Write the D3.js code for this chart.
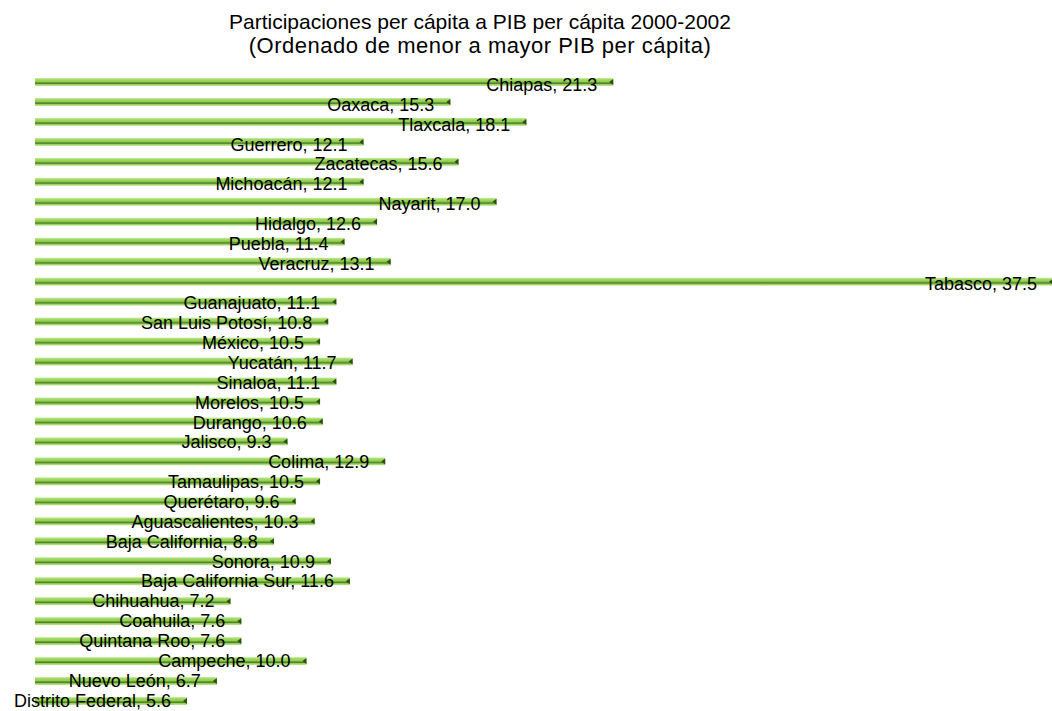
<!DOCTYPE html>
<html>
<head>
<meta charset="utf-8">
<script src="https://cdn.jsdelivr.net/npm/d3@7"></script>
<style>
  html, body { margin: 0; padding: 0; background: #fff; }
  svg { display: block; font-family: "Liberation Sans", Arial, sans-serif; }
</style>
</head>
<body>
<svg id="chart" width="1052" height="711"></svg>
<script>
const titleLines = [
  "Participaciones per cápita a PIB per cápita 2000-2002",
  "(Ordenado de menor a mayor PIB per cápita)"
];
const states = [
  "Chiapas", "Oaxaca", "Tlaxcala", "Guerrero", "Zacatecas", "Michoacán", "Nayarit",
  "Hidalgo", "Puebla", "Veracruz", "Tabasco", "Guanajuato", "San Luis Potosí", "México",
  "Yucatán", "Sinaloa", "Morelos", "Durango", "Jalisco", "Colima", "Tamaulipas",
  "Querétaro", "Aguascalientes", "Baja California", "Sonora", "Baja California Sur",
  "Chihuahua", "Coahuila", "Quintana Roo", "Campeche", "Nuevo León", "Distrito Federal"
];
const values = [
  21.3, 15.3, 18.1, 12.1, 15.6, 12.1, 17.0,
  12.6, 11.4, 13.1, 37.5, 11.1, 10.8, 10.5,
  11.7, 11.1, 10.5, 10.6, 9.3, 12.9, 10.5,
  9.6, 10.3, 8.8, 10.9, 11.6,
  7.2, 7.6, 7.6, 10.0, 6.7, 5.6
];

const data = states.map((s, i) => ({ name: s, value: values[i] }));
const svg = d3.select("#chart");

const defs = svg.append("defs");
const grad = defs.append("linearGradient")
  .attr("id", "barGrad").attr("x1", 0).attr("y1", 0).attr("x2", 0).attr("y2", 1);
[
  [0, "#d2ecb0"], [0.18, "#a3dc66"], [0.45, "#8fcf4e"], [0.56, "#6a9e38"],
  [0.68, "#527f2a"], [0.8, "#93cf55"], [1, "#c8e6a2"]
].forEach(([o, c]) => grad.append("stop").attr("offset", o).attr("stop-color", c));

const x = d3.scaleLinear().domain([0, 37.5]).range([35, 1053]);
// bar centres and label baselines
const yBar = d3.scalePoint().domain(states).range([82, 701]);
const yLab = d3.scalePoint().domain(states).range([91, 706.5]);
const barH = 8;

// Title
svg.append("g").selectAll("text").data(titleLines).join("text")
  .attr("x", 480)
  .attr("y", (d, i) => 28.5 + i * 24.5)
  .attr("text-anchor", "middle")
  .attr("font-size", (d, i) => i === 0 ? "21px" : "22px")
  .attr("letter-spacing", (d, i) => i === 0 ? "0px" : "0.5px")
  .attr("fill", "#000")
  .text(d => d);

const rows = svg.append("g").selectAll("g").data(data).join("g");

rows.append("rect")
  .attr("x", x(0))
  .attr("y", d => yBar(d.name) - barH / 2)
  .attr("width", d => x(d.value) - x(0))
  .attr("height", barH)
  .attr("fill", "url(#barGrad)");

rows.append("path")
  .attr("d", d => {
    const xe = x(d.value), cy = yBar(d.name);
    return `M${xe - 4},${cy} L${xe},${cy - 3} L${xe},${cy + 3} Z`;
  })
  .attr("fill", "#2e4d14");

rows.append("text")
  .attr("x", d => x(d.value) - 16)
  .attr("y", d => yLab(d.name))
  .attr("text-anchor", "end")
  .attr("font-size", "18px")
  .attr("fill", "#000")
  .text(d => `${d.name}, ${d.value.toFixed(1)}`);
</script>
</body>
</html>
